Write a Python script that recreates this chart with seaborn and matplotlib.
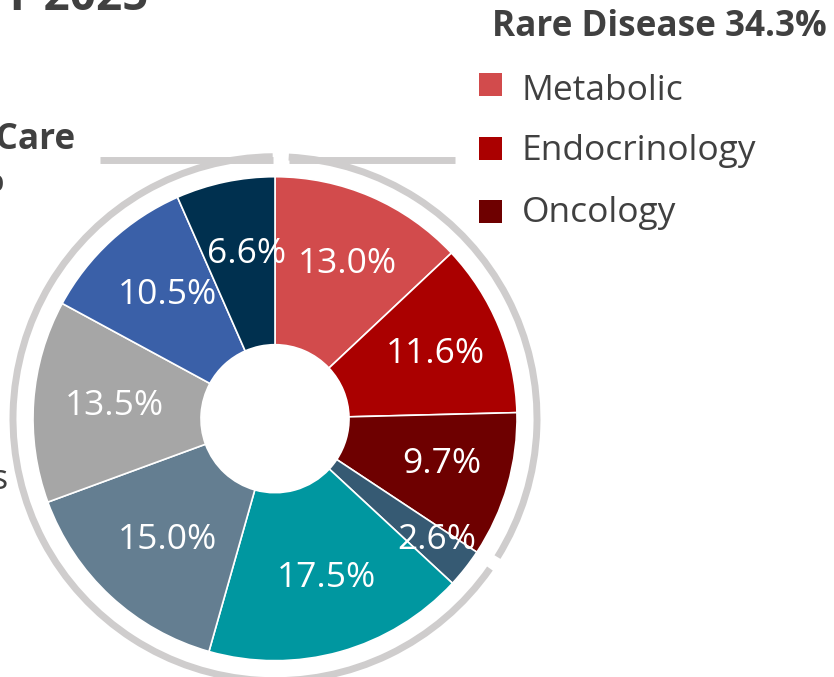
import numpy as np
import matplotlib
matplotlib.use("Agg")
import matplotlib.pyplot as plt
from matplotlib.patches import Arc, Rectangle
import seaborn as sns

# ---------------- data ----------------
segments = ["Metabolic", "Endocrinology", "Oncology", "Respiratory", "Cardiovascular",
            "Immunology", "Neurology", "Infectious Diseases", "Vaccines"]
shares = [13.0, 11.6, 9.7, 2.6, 17.5, 15.0, 13.5, 10.5, 6.6]
colors = ["#D24B4C", "#AA0000", "#6E0000", "#365A73", "#0097A0",
          "#647E91", "#A6A6A6", "#3A60A8", "#00304F"]
rare_segments = ["Metabolic", "Endocrinology", "Oncology"]
rare_total = 34.3
primary_total = 65.7

sns.set_theme(style="white")
plt.rcParams["font.family"] = ["Open Sans", "DejaVu Sans"]

W, H = 834, 677
fig = plt.figure(figsize=(W / 100, H / 100), dpi=100)
ax = fig.add_axes([0, 0, 1, 1])

def Y(y):
    return H - y

cx, cy = 275, 418.7
R, r_in = 242, 74
TXT = "#404040"
FS = 25.5
FSB = 25.3

wedges, _, autotexts = ax.pie(
    shares, colors=colors, startangle=90, counterclock=False,
    radius=R, center=(cx, Y(cy)),
    wedgeprops=dict(width=R - r_in, edgecolor="white", linewidth=1.2),
    autopct=lambda p: f"{p:.1f}%", pctdistance=0.69,
    textprops=dict(color="white", fontsize=FS),
)
# label placement: slight rightward shift, small slice pushed outward
for w, t, v in zip(wedges, autotexts, shares):
    t.set_va("center_baseline"); t.set_ha("center")
    mid = np.deg2rad((w.theta1 + w.theta2) / 2)
    dist = 0.82 if v < 5 else 0.69
    t.set_position((cx + dist * R * np.cos(mid) + 6, Y(cy) + dist * R * np.sin(mid) + 5))

# group brackets (arcs)
bound = 90 - rare_total * 3.6
RA = 262
arc_col = "#CFCDCD"
lw = 5.0
ax.add_patch(Arc((cx, Y(cy)), 2 * RA, 2 * RA, theta1=bound + 1.6, theta2=87.0,
                 color=arc_col, lw=lw, capstyle="butt"))
ax.add_patch(Arc((cx, Y(cy)), 2 * RA, 2 * RA, theta1=90.5, theta2=360 + bound - 1.4,
                 color=arc_col, lw=lw, capstyle="butt"))
xr = cx + RA * np.cos(np.deg2rad(87.0))
xl = cx + RA * np.cos(np.deg2rad(90.5))
ax.plot([xr, 455], [Y(160), Y(160)], color=arc_col, lw=lw, solid_capstyle="butt")
ax.plot([100, xl], [Y(160), Y(160)], color=arc_col, lw=lw, solid_capstyle="butt")

# right legend (Rare Disease)
ax.text(492, Y(36.5), f"Rare Disease {rare_total}%", fontsize=FSB, fontweight="bold",
        color=TXT, ha="left", va="baseline")
sq_centers = [84, 148, 211]
txt_base = [100, 159.5, 222]
for i, name in enumerate(rare_segments):
    ax.add_patch(Rectangle((479, Y(sq_centers[i]) - 11.5), 23, 23, color=colors[i], lw=0))
    ax.text(522, Y(txt_base[i]), name, fontsize=FS, color=TXT, ha="left", va="baseline")

# left group label (cropped in the reference)
ax.text(75, Y(149), "Primary Care", fontsize=FSB, fontweight="bold", color=TXT,
        ha="right", va="baseline")
ax.text(5, Y(191), f"{primary_total}%", fontsize=FSB, fontweight="bold", color=TXT,
        ha="right", va="baseline")
ax.text(8, Y(489), segments[-1], fontsize=FS, color=TXT, ha="right", va="baseline")

# title (cropped at top in the reference)
ax.text(148, Y(10), "Revenue by Therapeutic Area, FY 2025", fontsize=33,
        fontweight="bold", color=TXT, ha="right", va="baseline")

ax.set_xlim(0, W)
ax.set_ylim(0, H)
ax.set_aspect("equal")
ax.axis("off")
fig.savefig("out.png", dpi=100)
